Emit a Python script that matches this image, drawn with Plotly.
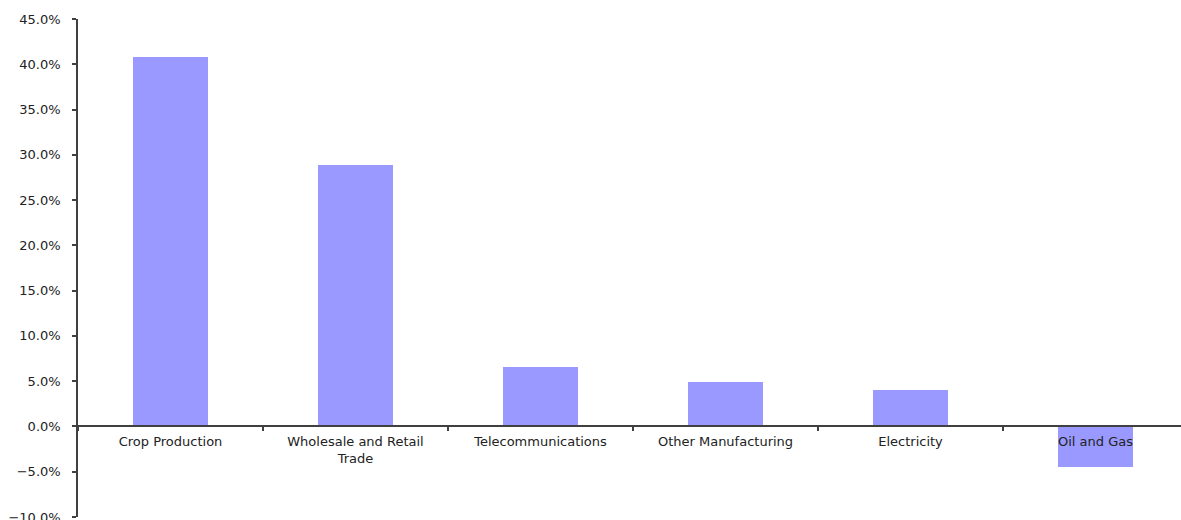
import plotly.graph_objects as go

categories = ["Crop Production", "Wholesale and Retail<br>Trade", "Telecommunications",
              "Other Manufacturing", "Electricity", "Oil and Gas"]
values = [40.8, 28.9, 6.6, 4.9, 4.0, -4.5]

Y_MIN, Y_MAX = -10, 45

fig = go.Figure()
fig.add_trace(go.Bar(x=categories, y=values, marker=dict(color="#9999FF", line=dict(width=0)),
                     width=0.405))

fig.update_layout(
    width=1181, height=520,
    margin=dict(l=78, r=0, t=19, b=3, autoexpand=False),
    plot_bgcolor="white", paper_bgcolor="white",
    showlegend=False,
    bargap=0,
    font=dict(family="DejaVu Sans, Verdana, sans-serif", size=13, color="#222222"),
)
fig.update_xaxes(
    type="category",
    range=[-0.5, -0.5 + 1103 / 185],
    anchor="free", position=(0 - Y_MIN) / (Y_MAX - Y_MIN),
    showline=True, linecolor="#404040", linewidth=1.5,
    ticks="outside", ticklen=4, tickcolor="#404040", tickwidth=1.5,
    tickson="boundaries",
    showgrid=False, zeroline=False,
    ticklabelstandoff=3,
    automargin=False,
    tickfont=dict(size=13),
)
fig.update_yaxes(
    range=[Y_MIN, Y_MAX], dtick=5, tick0=0,
    tickformat=".1f", ticksuffix="%",
    showline=True, linecolor="#404040", linewidth=1.5,
    ticks="outside", ticklen=4, tickcolor="#404040", tickwidth=1.5,
    showgrid=False, zeroline=False,
    ticklabelstandoff=9,
    ticklabeloverflow="allow",
    automargin=False,
    tickfont=dict(size=13),
)

fig.write_html("out.html")
